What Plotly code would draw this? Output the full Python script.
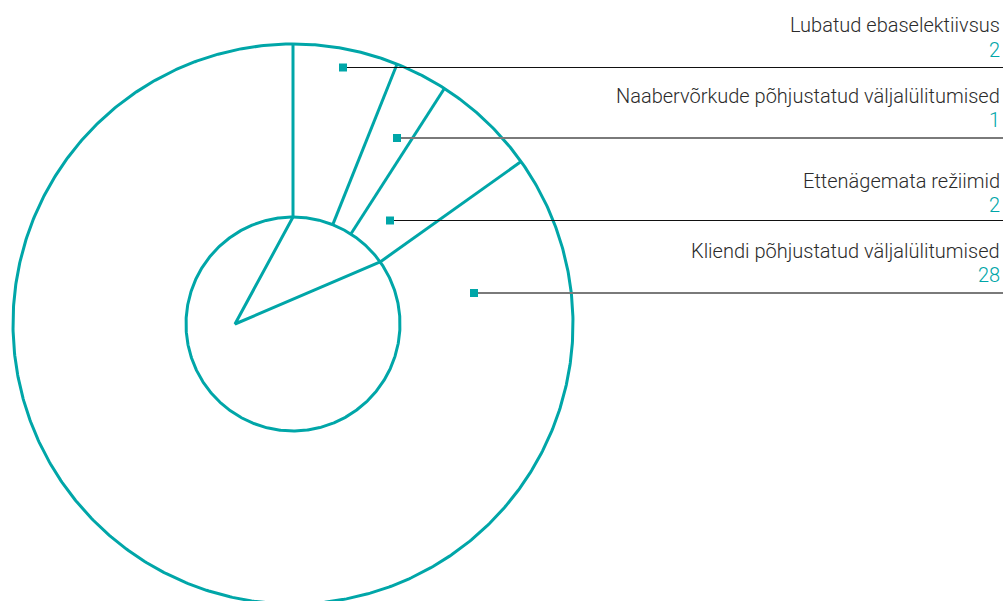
import numpy as np
import plotly.graph_objects as go

# ---- data ----
categories = [
    "Lubatud ebaselektiivsus",
    "Naabervõrkude põhjustatud väljalülitumised",
    "Ettenägemata režiimid",
    "Kliendi põhjustatud väljalülitumised",
]
values = [2, 1, 2, 28]

# ---- layout / style constants (pixels) ----
W, H = 1006, 601
CX, CY = 293, 324          # pie centre
R_OUT, R_IN = 280, 107     # outer / inner radius
APEX_DX = -58              # inner wedge apex offset from centre
TEAL = "#00A6A8"
TEXT = "#2b2b2b"
FONT = "Roboto"

leader_y = [67.5, 138, 220.5, 293]
leader_x0 = [343, 397, 390, 474]
leader_x1 = 1003
leader_col = ["#111111", "#7a7a7a", "#111111", "#7a7a7a"]
leader_w = [1, 2, 1, 2]
label_y = [25, 96, 181, 251]
value_y = [50, 120, 205, 275]
text_x = 1002

fig = go.Figure()

def pt(theta_deg, r):
    t = np.radians(theta_deg)
    return CX + r * np.sin(t), CY - r * np.cos(t)

# circles
ang = np.linspace(0, 360, 721)
for r in (R_OUT, R_IN):
    xs, ys = pt(ang, r)
    fig.add_trace(go.Scatter(x=xs, y=ys, mode="lines",
                             line=dict(color=TEAL, width=3),
                             hoverinfo="skip", showlegend=False))

# slice boundaries (clockwise from 12 o'clock)
total = sum(values)
cum = np.cumsum([0] + values[:-1]) / total * 360.0
for a in cum:
    x0, y0 = pt(a, R_IN)
    x1, y1 = pt(a, R_OUT)
    fig.add_trace(go.Scatter(x=[x0, x1], y=[y0, y1], mode="lines",
                             line=dict(color=TEAL, width=3),
                             hoverinfo="skip", showlegend=False))

# inner wedge spanning the small slices
small_end = cum[-1]
xa, ya = pt(0, R_IN)
xb, yb = pt(small_end, R_IN)
fig.add_trace(go.Scatter(x=[xa, CX + APEX_DX, xb], y=[ya, CY, yb], mode="lines",
                         line=dict(color=TEAL, width=3),
                         hoverinfo="skip", showlegend=False))

# leader lines, markers and labels
for i, (cat, v) in enumerate(zip(categories, values)):
    fig.add_trace(go.Scatter(x=[leader_x0[i], leader_x1], y=[leader_y[i], leader_y[i]],
                             mode="lines",
                             line=dict(color=leader_col[i], width=leader_w[i]),
                             hoverinfo="skip", showlegend=False))
    fig.add_trace(go.Scatter(x=[leader_x0[i]], y=[leader_y[i]], mode="markers",
                             marker=dict(symbol="square", size=8, color=TEAL),
                             hovertext=f"{cat}: {v}", hoverinfo="text",
                             showlegend=False))
    fig.add_annotation(x=text_x, y=label_y[i], text=cat, showarrow=False,
                       xanchor="right", yanchor="middle",
                       font=dict(family=FONT, size=20, color=TEXT, weight=300))
    fig.add_annotation(x=text_x, y=value_y[i], text=str(v), showarrow=False,
                       xanchor="right", yanchor="middle",
                       font=dict(family=FONT, size=20, color=TEAL, weight=300))

fig.update_layout(
    width=W, height=H,
    margin=dict(l=0, r=0, t=0, b=0),
    paper_bgcolor="white", plot_bgcolor="white",
    xaxis=dict(range=[0, W], visible=False, fixedrange=True),
    yaxis=dict(range=[H, 0], visible=False, fixedrange=True),
    showlegend=False,
)

fig.write_html("out.html")
